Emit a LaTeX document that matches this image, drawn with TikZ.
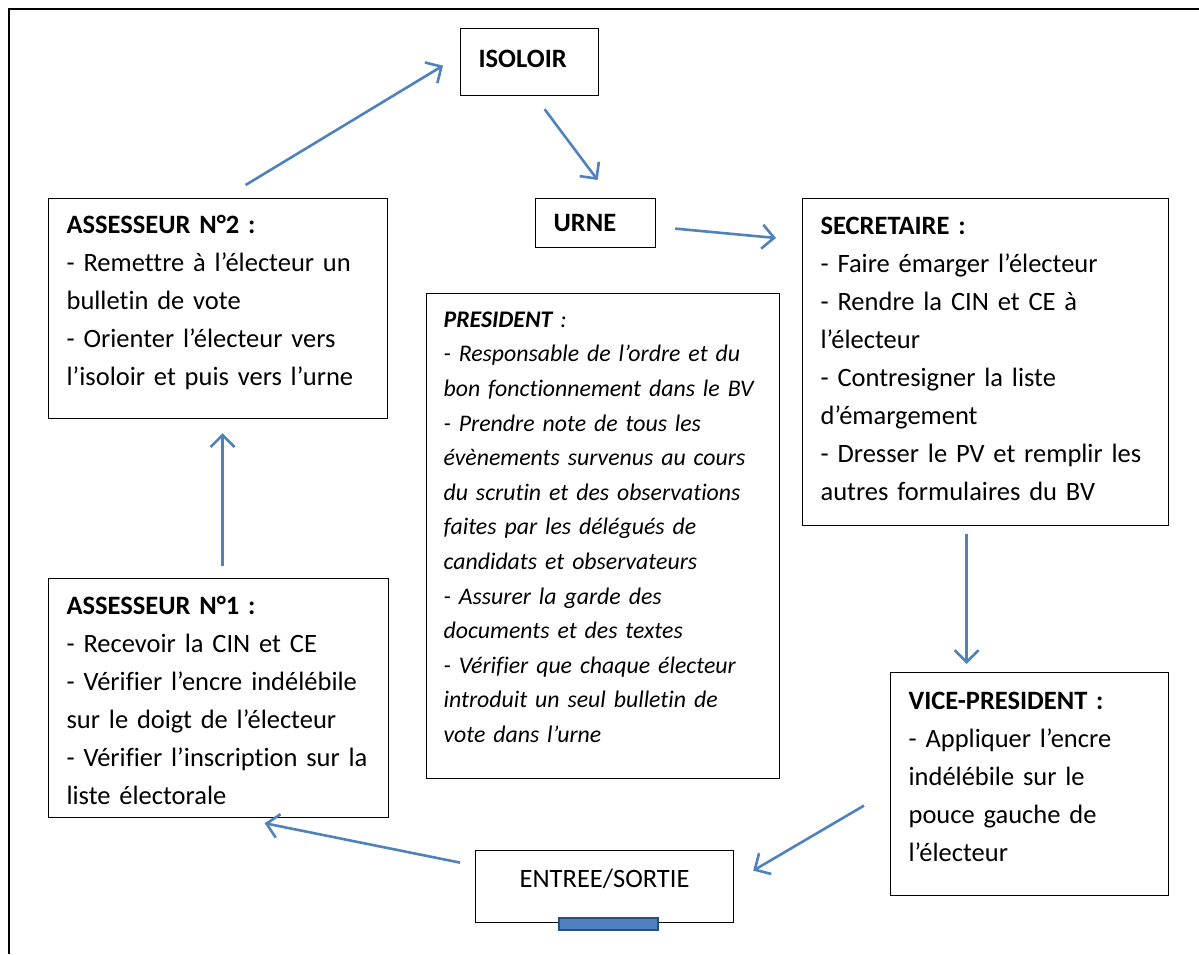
\documentclass[tikz,border=0pt]{standalone}
\usepackage{fontspec}
\setmainfont{Carlito}[Ligatures=NoCommon]
\usetikzlibrary{arrows.meta}

\definecolor{flowblue}{HTML}{4F81BD}
\definecolor{bardark}{HTML}{2B4C7E}

% extra space under the last line, moves the text up by half of it
\newcommand\raiseby[1]{\par\kern#1}

\tikzset{
  role/.style={draw, line width=1.2pt, anchor=north west, align=left,
    inner xsep=18pt, inner ysep=0pt, font=\fontsize{26.5}{38}\selectfont},
  flow/.style={draw=flowblue, line width=2.6pt,
    -{Straight Barb[length=12pt,width=24pt]}}
}

\begin{document}
\begin{tikzpicture}[x=1pt,y=-1pt]

        \useasboundingbox (0,0) rectangle (1199,954);
        \draw[line width=1.5pt] (9,954) -- (9,9) -- (1199,9);

        \begin{scope}[every node/.style={role}]
          \node[text width=102pt, minimum height=67pt] (isoloir) at (460,28) {\textbf{ISOLOIR}\raiseby{6pt}};
          \node[text width=84pt, minimum height=49pt]  (urne)    at (535,198) {\textbf{URNE}\raiseby{-6pt}};
          \node[text width=303pt, minimum height=220pt] (a2) at (48,198)
            {\textbf{ASSESSEUR N°2 :}\\
             - Remettre à l’électeur un\\
             bulletin de vote\\
             - Orienter l’électeur vers\\
             l’isoloir et puis vers l’urne\raiseby{12pt}};
          \node[text width=330pt, minimum height=327pt] (sec) at (802,198)
            {\textbf{SECRETAIRE :}\\
             - Faire émarger l’électeur\\
             - Rendre la CIN et CE à\\
             l’électeur\\
             - Contresigner la liste\\
             d’émargement\\
             - Dresser le PV et remplir les\\
             autres formulaires du BV\raiseby{6pt}};
          \node[text width=319pt, minimum height=485pt, inner xsep=17pt,
                font=\fontsize{23.8}{34.6}\selectfont\itshape] (pres) at (426,293)
            {\textbf{PRESIDENT} :\\
             - Responsable de l’ordre et du\\
             bon fonctionnement dans le BV\\
             - Prendre note de tous les\\
             évènements survenus au cours\\
             du scrutin et des observations\\
             faites par les délégués de\\
             candidats et observateurs\\
             - Assurer la garde des\\
             documents et des textes\\
             - Vérifier que chaque électeur\\
             introduit un seul bulletin de\\
             vote dans l’urne\raiseby{18pt}};
          \node[text width=304pt, minimum height=239pt] (a1) at (48,578)
            {\textbf{ASSESSEUR N°1 :}\\
             - Recevoir la CIN et CE\\
             - Vérifier l’encre indélébile\\
             sur le doigt de l’électeur\\
             - Vérifier l’inscription sur la\\
             liste électorale\raiseby{-4pt}};
          \node[text width=242pt, minimum height=223pt] (vice) at (890,672)
            {\textbf{VICE-PRESIDENT :}\\
             - Appliquer l’encre\\
             indélébile sur le\\
             pouce gauche de\\
             l’électeur\raiseby{15pt}};
          \node[minimum width=258pt, minimum height=72pt, align=center,
                inner xsep=0pt, text depth=16pt] (entree) at (475,850) {ENTREE/SORTIE};
        \end{scope}

        % door of the entrance
        \draw[bardark, fill=flowblue, line width=2.5pt] (559,918) rectangle (658,930);

        \draw[flow] ([xshift=27.5pt,yshift=13pt]a2.north) -- ([xshift=-17pt,yshift=-3.5pt]isoloir.west);
        \draw[flow] ([xshift=15pt,yshift=-13pt]isoloir.south) -- ([xshift=2pt,yshift=18pt]urne.north);
        \draw[flow] ([xshift=19pt,yshift=-5.5pt]urne.east) -- ([xshift=-26pt,yshift=-40pt]sec.north west);
        \draw[flow] ([xshift=-19pt,yshift=-8pt]sec.south) -- ([xshift=-63pt,yshift=8pt]vice.north);
        \draw[flow] ([xshift=-26pt,yshift=-21.5pt]vice.west) -- ([xshift=19pt,yshift=16pt]entree.east);
        \draw[flow] ([xshift=-15pt,yshift=24pt]entree.west) -- ([xshift=46pt,yshift=-5pt]a1.south);
        \draw[flow] ([xshift=4pt,yshift=12pt]a1.north) -- ([xshift=4.5pt,yshift=-14pt]a2.south);

      \end{tikzpicture}
\end{document}
